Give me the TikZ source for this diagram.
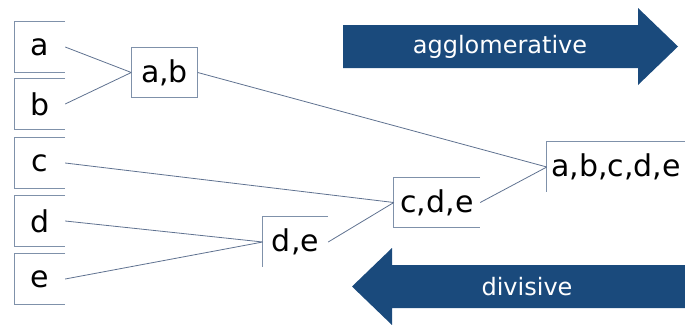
\documentclass[tikz,border=0pt]{standalone}
\usepackage{fontspec}
\setmainfont{DejaVu Sans}
\usepackage{tikz}
\usetikzlibrary{%
  positioning
 ,calc
}
\definecolor{navy}{HTML}{1A4A7C}
\definecolor{frame}{HTML}{7F91AA}
\definecolor{link}{HTML}{5F7290}
\tikzstyle{leaf}=[inner sep=0pt,minimum width=50pt,minimum height=50pt,font=\fontsize{30}{32}\selectfont]
\tikzstyle{clu}=[inner sep=0pt,minimum height=50pt,font=\fontsize{30}{32}\selectfont]
\tikzstyle{bd}=[draw=frame,line width=1.1pt]
\tikzstyle{lnk}=[draw=link,line width=0.8pt]
\tikzstyle{big}=[fill=navy]
\tikzstyle{bigtxt}=[text=white,font=\fontsize{24}{26}\selectfont]

\begin{document}
\begin{tikzpicture}[x=1pt,y=-1pt]
  \useasboundingbox (0,0) rectangle (685,324);
  % arrows
  \fill[big] (343,25) -- (638,25) -- (638,8) -- (678,46.5) -- (638,85) -- (638,68) -- (343,68) -- cycle;
  \fill[big] (700,265) -- (392,265) -- (392,248) -- (352,286.5) -- (392,325) -- (392,308) -- (700,308) -- cycle;
  \node[bigtxt] (agg) at (500,46.5) {agglomerative};
  \node[bigtxt] (div) at (527,286.5) {divisive};
  % leaves
  \foreach \n/\y in {a/47,b/104,c/163,d/221,e/279}
    {\node[leaf] (\n) at (40,\y) {\n};
     \draw[bd] (\n.north east) -- (\n.north west) -- (\n.south west) -- (\n.south east);}
  % clusters
  \node[clu,minimum width=66pt] (ab) at (164.5,72.5) {a,b};
  \node[clu,minimum width=65pt] (de) at (295.5,242) {d,e};
  \node[clu,minimum width=86pt] (cde) at (437,202.5) {c,d,e};
  \node[clu,minimum width=138pt] (abcde) at (616,167) {a,b,c,d,e};
  \draw[bd] (ab.south west) rectangle (ab.north east);
  \draw[bd] (de.north east) -- (de.north west) -- (de.south west);
  \draw[bd] (cde.north east) -- (cde.north west) -- (cde.south west) -- (cde.south east);
  \draw[bd] (abcde.north east) -- (abcde.north west) -- (abcde.south west);
  % links
  \path[lnk]
    (a.east) -- (ab.west)
    (b.east) -- (ab.west)
    (d.east) -- (de.west)
    (e.east) -- (de.west)
    (c.east) -- (cde.west)
    (de.east) -- (cde.west)
    (ab.east) -- (abcde.west)
    (cde.east) -- (abcde.west);
\end{tikzpicture}
\end{document}
